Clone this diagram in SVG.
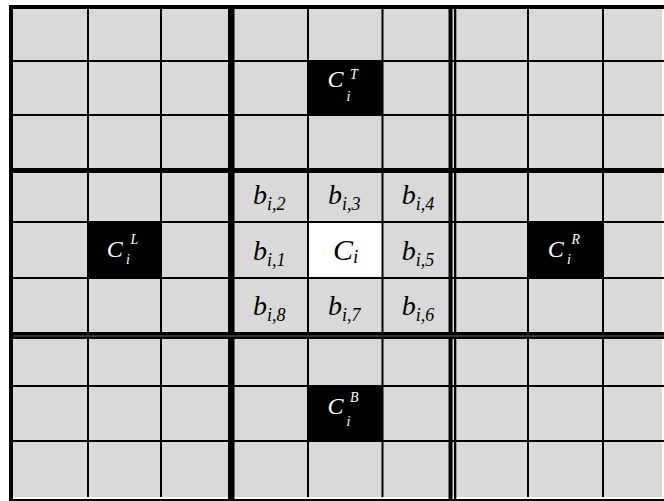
<svg xmlns="http://www.w3.org/2000/svg" width="664" height="501" viewBox="0 0 664 501">
<style>
.t{font-family:"Liberation Serif","Times New Roman",serif;font-style:italic;fill:#000}
.w{fill:#fff}
.m{font-size:28px}
.s{font-size:18px}
.bc{font-size:24px}
.bs{font-size:14px}
.bk{fill:#000}
.tl{stroke:#000;stroke-width:2;fill:none}
</style>
<rect width="664" height="501" fill="#fff"/>
<rect x="11" y="7" width="651" height="490" fill="#d9d9d9"/>
<g id="cell-CT"><rect class="bk" x="308" y="61" width="75" height="54"/>
<text class="t w bc" x="327.5" y="87">C</text><text class="t w bs" x="346.5" y="100.5">i</text><text class="t w bs" x="350" y="78.5">T</text></g>
<g id="cell-CL"><rect class="bk" x="88" y="222" width="73" height="56"/>
<text class="t w bc" x="106.8" y="257">C</text><text class="t w bs" x="126" y="264">i</text><text class="t w bs" x="130.5" y="243.5">L</text></g>
<g id="cell-CR"><rect class="bk" x="528" y="222" width="75" height="56"/>
<text class="t w bc" x="547.8" y="257">C</text><text class="t w bs" x="567" y="264">i</text><text class="t w bs" x="571.5" y="243.5">R</text></g>
<g id="cell-CB"><rect class="bk" x="308" y="386" width="75" height="55"/>
<text class="t w bc" x="327.5" y="414">C</text><text class="t w bs" x="346.5" y="426">i</text><text class="t w bs" x="350" y="401.5">B</text></g>
<g id="cell-Ci"><rect fill="#fff" x="308" y="222" width="75" height="56"/>
<text class="t" x="333" y="260" font-size="30">C<tspan font-size="19" dy="3">i</tspan></text></g>
<g id="cell-b2"><text class="t m" x="253" y="204">b<tspan class="s" dy="6">i,2</tspan></text></g>
<g id="cell-b3"><text class="t m" x="328" y="204">b<tspan class="s" dy="6">i,3</tspan></text></g>
<g id="cell-b4"><text class="t m" x="401.7" y="204">b<tspan class="s" dy="6">i,4</tspan></text></g>
<g id="cell-b1"><text class="t m" x="253" y="259.5">b<tspan class="s" dy="6">i,1</tspan></text></g>
<g id="cell-b5"><text class="t m" x="401.7" y="259.5">b<tspan class="s" dy="6">i,5</tspan></text></g>
<g id="cell-b8"><text class="t m" x="253" y="314.5">b<tspan class="s" dy="6">i,8</tspan></text></g>
<g id="cell-b7"><text class="t m" x="328" y="314.5">b<tspan class="s" dy="6">i,7</tspan></text></g>
<g id="cell-b6"><text class="t m" x="401.7" y="314.5">b<tspan class="s" dy="6">i,6</tspan></text></g>
<g id="grid">
<g class="tl">
<line x1="13" y1="61" x2="664" y2="61"/>
<line x1="13" y1="115" x2="664" y2="115"/>
<line x1="13" y1="222" x2="664" y2="222"/>
<line x1="13" y1="278" x2="664" y2="278"/>
<line x1="13" y1="386" x2="664" y2="386"/>
<line x1="13" y1="441" x2="664" y2="441"/>
<line x1="88" y1="9" x2="88" y2="497"/>
<line x1="161" y1="9" x2="161" y2="497"/>
<line x1="308" y1="9" x2="308" y2="497"/>
<line x1="382.5" y1="9" x2="382.5" y2="497"/>
<line x1="528" y1="9" x2="528" y2="497"/>
<line x1="603" y1="9" x2="603" y2="497"/>
</g>
<rect class="bk" x="228" y="5" width="6.5" height="496"/>
<rect class="bk" x="448.5" y="5" width="4" height="496"/>
<rect class="bk" x="454" y="5" width="2.3" height="496"/>
<rect class="bk" x="9" y="168" width="655" height="5"/>
<rect class="bk" x="9" y="332" width="655" height="7"/>
<rect x="13" y="335.5" width="651" height="1" fill="#666"/>
<rect class="bk" x="9" y="5" width="655" height="4"/>
<rect class="bk" x="9" y="5" width="4" height="496"/>
<rect class="bk" x="9" y="499" width="655" height="2"/>
</g>
</svg>
